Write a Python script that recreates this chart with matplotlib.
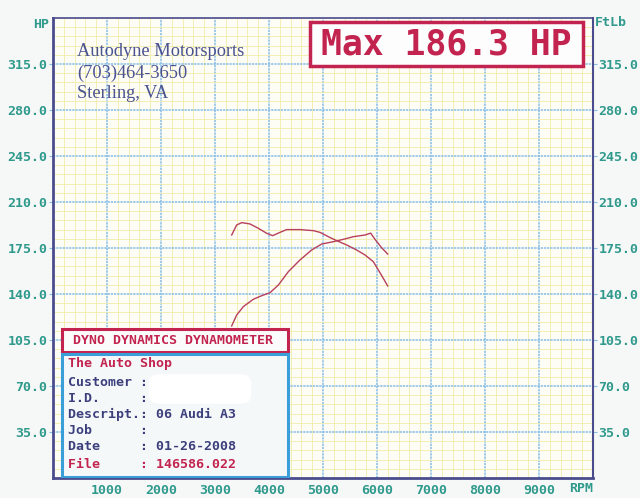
import matplotlib
matplotlib.use("Agg")
import matplotlib.pyplot as plt
import matplotlib.patches as mpatches
import numpy as np

# values
hp_rpm = [3309, 3401, 3525, 3710, 3864, 4019, 4173, 4358, 4574, 4790, 4975,
          5191, 5377, 5562, 5778, 5883, 5963, 6086, 6198]
hp = [115.7, 124.0, 130.4, 136.0, 138.7, 141.0, 146.8, 157.0, 165.9, 173.5, 178.0,
      179.8, 181.6, 183.6, 184.9, 186.3, 181.6, 175.2, 170.4]

tq_rpm = [3309, 3401, 3494, 3648, 3802, 3957, 4068, 4204, 4327, 4574, 4821, 4944,
          5099, 5253, 5438, 5623, 5778, 5932, 6025, 6117, 6198]
tq = [184.9, 192.5, 194.3, 193.3, 190.0, 186.2, 184.4, 186.9, 189.0, 189.0, 188.2,
      186.9, 183.6, 180.6, 177.3, 173.5, 169.7, 164.6, 158.3, 151.9, 146.1]

x_ticks = [1000, 2000, 3000, 4000, 5000, 6000, 7000, 8000, 9000]
y_ticks = [35, 70, 105, 140, 175, 210, 245, 280, 315]

shop_lines = ["Autodyne Motorsports", "(703)464-3650", "Sterling, VA"]
info_rows = [("Customer ", ""), ("I.D.     ", ""), ("Descript.", "06 Audi A3"),
             ("Job      ", ""), ("Date     ", "01-26-2008")]
file_no = "146586.022"
max_hp = 186.3

teal = "#2f9a8c"
crimson = "#c2244f"
navy = "#4a4c8e"
blue_box = "#3a9ed8"
curve = "#b8405c"
mono = "DejaVu Sans Mono"

fig = plt.figure(figsize=(6.4, 4.98), dpi=100)
fig.patch.set_facecolor("#f6f7f7")
ax = fig.add_axes([53 / 640, 1 - 478 / 498, 540 / 640, 460 / 498])
ax.set_facecolor("#fdfdf5")

ax.set_xlim(0, 10000)
ax.set_ylim(0, 350)
ax.set_xticks(x_ticks)
ax.set_yticks(y_ticks)
ax.set_xticks(np.arange(0, 10001, 200), minor=True)
ax.set_yticks(np.arange(0, 351, 7), minor=True)
ax.set_yticklabels(["%.1f" % v for v in y_ticks])
ax.grid(which="minor", color="#f2ebaa", lw=0.6, zorder=0)
ax.grid(which="major", color="#86bde6", lw=1.1, ls=(0, (1.5, 0.6)), zorder=1)
ax.tick_params(which="minor", length=0)
ax.tick_params(axis="y", which="major", length=3, color="#86bde6", labelcolor=teal,
               labelright=True, right=True, pad=1, labelsize=9.5)
ax.tick_params(axis="x", which="major", length=0, labelcolor=teal, pad=4, labelsize=9.5)
for lab in ax.get_xticklabels() + ax.get_yticklabels():
    lab.set_fontfamily(mono)
    lab.set_fontweight("bold")
for side, lw in [("left", 2), ("bottom", 2), ("top", 1.2), ("right", 1.5)]:
    ax.spines[side].set_color(navy)
    ax.spines[side].set_linewidth(lw)

ax.plot(tq_rpm, tq, color=curve, lw=1.0, zorder=3)
ax.plot(hp_rpm, hp, color=curve, lw=1.0, zorder=3)

fig.text(49 / 640, 1 - 25 / 498, "HP", ha="right", va="center", color=teal,
         family=mono, fontsize=9.5, fontweight="bold")
fig.text(595 / 640, 1 - 23 / 498, "FtLb", ha="left", va="center", color=teal,
         family=mono, fontsize=9.5, fontweight="bold")
fig.text(593 / 640, 1 - 488 / 498, "RPM", ha="right", va="center", color=teal,
         family=mono, fontsize=9.5, fontweight="bold")


def px(x, y):
    # pixel position on the sheet -> axes fraction
    return (x - 53) / 540, (478 - y) / 460


# shop name block
for i, line in enumerate(shop_lines):
    ax.text(*px(77, 52 + i * 21), line, transform=ax.transAxes, ha="left",
            va="center", family="Liberation Serif", fontsize=13.2, color="#4a5290",
            zorder=5)

# max HP box
x0, y0 = px(310, 66)
ax.add_patch(mpatches.Rectangle((x0, y0), 273 / 540, 44 / 460, transform=ax.transAxes,
                                facecolor="#fdfdfd", edgecolor=crimson, lw=2.5,
                                zorder=6, clip_on=False))
ax.text(*px(446, 45), "Max %.1f HP" % max_hp, transform=ax.transAxes, ha="center",
        va="center", family=mono, fontweight="bold", fontsize=25, color=crimson,
        zorder=7)

# dynamometer header box
x0, y0 = px(62, 352)
ax.add_patch(mpatches.Rectangle((x0, y0), 226 / 540, 23 / 460, transform=ax.transAxes,
                                facecolor="#fbfbfb", edgecolor=crimson, lw=2.2,
                                zorder=6))
ax.text(*px(73, 341), "DYNO DYNAMICS DYNAMOMETER", transform=ax.transAxes,
        ha="left", va="center", family=mono, fontsize=9.5, fontweight="bold",
        color=crimson, zorder=7)

# info box
x0, y0 = px(62, 477)
ax.add_patch(mpatches.Rectangle((x0, y0), 226 / 540, 123 / 460, transform=ax.transAxes,
                                facecolor="#f5f8f9", edgecolor=blue_box, lw=2.2,
                                zorder=6))
ax.text(*px(68, 364), "The Auto Shop", transform=ax.transAxes, ha="left",
        va="center", family=mono, fontsize=9.5, fontweight="bold", color=crimson,
        zorder=7)
row_y = [382, 399, 414, 430, 446]
for (key, val), yy in zip(info_rows, row_y):
    ax.text(*px(68, yy), key + ": " + val, transform=ax.transAxes, ha="left",
            va="center", family=mono, fontsize=9.5, fontweight="bold",
            color="#3c3f7c", zorder=7)
ax.text(*px(68, 465), "File     : " + file_no, transform=ax.transAxes, ha="left",
        va="center", family=mono, fontsize=9.5, fontweight="bold", color=crimson,
        zorder=7)
# blanked customer name
ax.add_patch(mpatches.FancyBboxPatch(px(152, 401), 96 / 540, 24 / 460,
                                     boxstyle="round,pad=0.006,rounding_size=0.02",
                                     transform=ax.transAxes, facecolor="white",
                                     edgecolor="none", zorder=8))

fig.savefig("out.png", dpi=100, facecolor=fig.get_facecolor())
